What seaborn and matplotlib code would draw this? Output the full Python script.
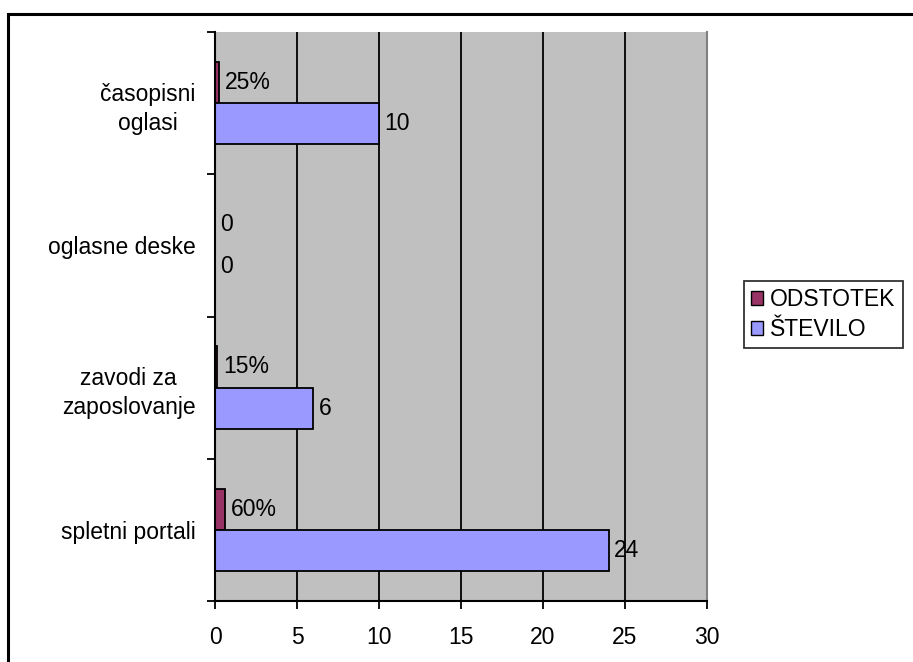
import matplotlib
matplotlib.use("Agg")
import matplotlib.pyplot as plt
import matplotlib.patches as mpatches
import seaborn as sns
import pandas as pd

categories = ["časopisni\noglasi", "oglasne deske", "zavodi za\nzaposlovanje", "spletni portali"]
series_names = ["ODSTOTEK", "ŠTEVILO"]
odstotek = [0.25, 0.0, 0.15, 0.60]
stevilo = [10, 0, 6, 24]
x_ticks = [0, 5, 10, 15, 20, 25, 30]

colors = {"ODSTOTEK": "#993366", "ŠTEVILO": "#9999FF"}

FS = 16.5
plt.rcParams["font.family"] = ["Liberation Sans", "DejaVu Sans"]
plt.rcParams["font.size"] = FS

df = pd.DataFrame({
    "cat": categories * 2,
    "series": [series_names[0]] * len(categories) + [series_names[1]] * len(categories),
    "value": odstotek + stevilo,
})

fig = plt.figure(figsize=(9.13, 6.62), dpi=100)
ax = fig.add_axes([215 / 913, 1 - 601 / 662, 492 / 913, 569 / 662])
ax.set_facecolor("#C0C0C0")

sns.barplot(data=df, y="cat", x="value", hue="series", order=categories,
            hue_order=series_names, palette=colors, orient="h", width=0.58,
            edgecolor="black", linewidth=1.3, gap=0, ax=ax, legend=False,
            saturation=1, errorbar=None)

ax.set_xlim(0, 30)
ax.set_ylim(3.5, -0.5)
ax.set_xticks(x_ticks)
ax.set_xticklabels([str(t) for t in x_ticks])
ax.set_xlabel("")
ax.set_ylabel("")

# gridlines
for t in x_ticks[1:-1]:
    ax.axvline(t, color="black", lw=1.3, zorder=0.5)

# y ticks: labels at centres, tick marks at boundaries
ax.set_yticks(range(len(categories)))
ax.set_yticklabels(categories, multialignment="center", linespacing=1.35)
ax.tick_params(axis="y", which="major", length=0, pad=14)
ax.set_yticks([i - 0.5 for i in range(len(categories) + 1)], minor=True)
ax.tick_params(axis="y", which="minor", length=6, width=1.3, direction="out")
ax.tick_params(axis="x", length=6, width=1.3, direction="out", pad=12)

ax.spines["top"].set_visible(False)
ax.spines["right"].set_color("#808080")
ax.spines["right"].set_linewidth(1.5)
ax.spines["left"].set_linewidth(1.5)
ax.spines["bottom"].set_linewidth(1.5)

# value labels
c_pct, c_num = ax.containers[0], ax.containers[1]
ax.bar_label(c_pct, labels=[(f"{round(v * 100)}%" if v > 0 else "0") for v in odstotek],
             padding=4, fontsize=FS)
ax.bar_label(c_num, labels=[str(v) for v in stevilo], padding=4, fontsize=FS)

# legend
handles = [mpatches.Patch(facecolor=colors[n], edgecolor="black", lw=1) for n in series_names]
leg = fig.legend(handles, series_names, loc="upper left",
                 bbox_to_anchor=(744 / 913, 1 - 281 / 662), frameon=True,
                 fancybox=False, edgecolor="black", handlelength=0.55, handleheight=0.55,
                 handletextpad=0.3, borderpad=0.3, labelspacing=0.3, fontsize=FS,
                 borderaxespad=0)
leg.get_frame().set_linewidth(1.3)

# outer chart border
fig.patches.append(mpatches.Rectangle((8 / 913, -0.1), 1.2, (1 - 14 / 662) + 0.1,
                                      transform=fig.transFigure, fill=False,
                                      edgecolor="black", lw=2.2))

fig.savefig("out.png", dpi=100)
